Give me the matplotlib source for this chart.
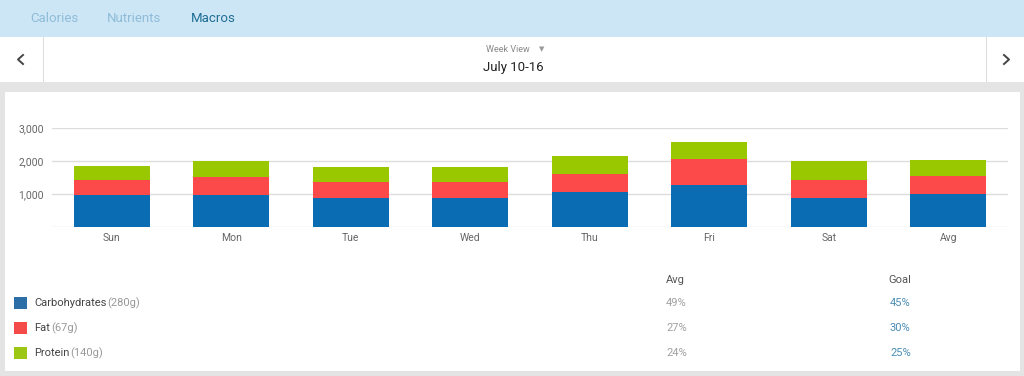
import matplotlib
matplotlib.use("Agg")
import matplotlib.pyplot as plt
from matplotlib.patches import Rectangle
from matplotlib.lines import Line2D
import matplotlib.ticker as ticker

plt.rcParams['font.family'] = ['Roboto', 'DejaVu Sans']

# dados
days = ["Sun", "Mon", "Tue", "Wed", "Thu", "Fri", "Sat", "Avg"]
carbs = [990, 985, 900, 900, 1080, 1290, 880, 1000]
fat = [440, 545, 475, 475, 525, 770, 555, 545]
protein = [420, 490, 460, 445, 555, 525, 575, 495]

macro_names = ["Carbohydrates", "Fat", "Protein"]
macro_grams = ["(280g)", "(67g)", "(140g)"]
avg_pct = ["49%", "27%", "24%"]
goal_pct = ["45%", "30%", "25%"]

tabs = ["Calories", "Nutrients", "Macros"]

blue = '#0a6db3'
red = '#fb4a49'
green = '#99c800'
legend_colors = ['#2b6fa6', '#f44a4a', '#9cc815']

W, H = 1024, 376
fig = plt.figure(figsize=(W / 100, H / 100), dpi=100)
fig.patch.set_facecolor('#e4e4e4')


def px(x, y):
    return x / W, 1 - y / H


def rect(x0, y0, x1, y1, color):
    fig.add_artist(Rectangle((x0 / W, 1 - y1 / H), (x1 - x0) / W, (y1 - y0) / H,
                             transform=fig.transFigure, facecolor=color,
                             edgecolor='none', zorder=0))


def chevron(xs, ys):
    fig.add_artist(Line2D([x / W for x in xs], [1 - y / H for y in ys],
                          transform=fig.transFigure, color='#444444', linewidth=1.4))


# barra de abas
rect(0, 0, W, 37, '#cde6f6')
tab_x = [30, 107, 191]
for name, tx in zip(tabs, tab_x):
    col = '#1f6e93' if name == "Macros" else '#8fbcd8'
    fig.text(*px(tx, 19), name, fontsize=9.5, color=col, va='center', ha='left')

# cabeçalho da semana
rect(0, 37, W, 82, 'white')
rect(43, 37, 44, 82, '#dcdcdc')
rect(986, 37, 987, 82, '#dcdcdc')
chevron([23, 18, 23], [55, 59.5, 64])
chevron([1004, 1009, 1004], [55, 59.5, 64])
fig.text(*px(508, 50), "Week View", fontsize=6.5, color='#888888', va='center', ha='center')
fig.text(*px(542, 49), "\u25BC", fontsize=5, color='#999999', va='center', ha='center',
         family='DejaVu Sans')
fig.text(*px(513, 67), "July 10-16", fontsize=9.5, color='#222222', va='center', ha='center')

# cartão branco
rect(5, 92, 1020, 371, 'white')

# gráfico de barras empilhadas
ax = fig.add_axes([52 / W, 1 - 227.3 / H, 956 / W, 99 / H])
ax.set_facecolor('none')
x = range(len(days))
bw = 0.636
ax.bar(x, carbs, width=bw, color=blue, zorder=3)
ax.bar(x, fat, width=bw, bottom=carbs, color=red, zorder=3)
bottom2 = [c + f for c, f in zip(carbs, fat)]
ax.bar(x, protein, width=bw, bottom=bottom2, color=green, zorder=3)

ax.set_xlim(-0.5, len(days) - 0.5)
ax.set_ylim(0, 3000)
ax.yaxis.set_major_locator(ticker.MultipleLocator(1000))
ax.yaxis.set_major_formatter(ticker.FuncFormatter(lambda v, p: "" if v == 0 else f"{int(v):,}"))
ax.grid(axis='y', color='#dddddd', linewidth=1, zorder=0)
ax.set_xticks(list(x))
ax.set_xticklabels(days)
ax.tick_params(axis='both', length=0, labelsize=7.5, labelcolor='#666666')
ax.tick_params(axis='x', pad=4)
ax.tick_params(axis='y', pad=6)
for s in ax.spines.values():
    s.set_visible(False)

# legenda / tabela
fig.text(*px(666, 280), "Avg", fontsize=8, color='#555555', va='center', ha='left')
fig.text(*px(888, 280), "Goal", fontsize=8, color='#555555', va='center', ha='left')
row_y = [303, 328, 353]
for name, g, a, gl, c, ry in zip(macro_names, macro_grams, avg_pct, goal_pct, legend_colors, row_y):
    rect(14, ry - 6, 27, ry + 6, c)
    t = fig.text(*px(34, ry), name, fontsize=8, color='#444444', va='center', ha='left')
    fig.canvas.draw()
    bb = t.get_window_extent()
    fig.text((bb.x1 + 1) / W, 1 - ry / H, g, fontsize=8, color='#999999', va='center', ha='left')
    fig.text(*px(666, ry), a, fontsize=8, color='#a0a0a0', va='center', ha='left')
    fig.text(*px(890, ry), gl, fontsize=8, color='#4a8db5', va='center', ha='left')

fig.savefig("out.png", dpi=100, facecolor=fig.get_facecolor())
